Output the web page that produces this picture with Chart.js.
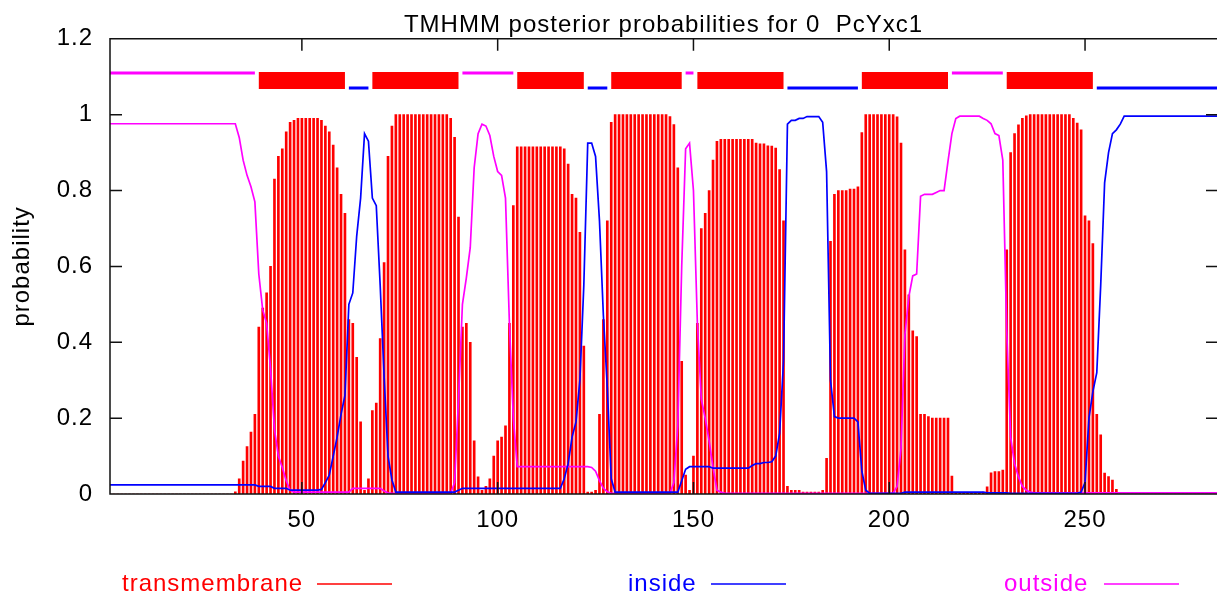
<!DOCTYPE html>
<html>
<head>
<meta charset="utf-8">
<title>TMHMM posterior probabilities</title>
<script src="https://cdn.jsdelivr.net/npm/chart.js@4.4.1/dist/chart.umd.min.js"></script>
<style>
  html, body { margin: 0; padding: 0; background: #fff; overflow: hidden; }
  #chart { display: block; }
</style>
</head>
<body>
<canvas id="chart" width="1217" height="593"></canvas>
<script>
// sequence name and per-residue posterior probabilities (residue 1..284)
const seqName = "0  PcYxc1";

const tmProb = [
  0, 0, 0, 0, 0, 0, 0, 0, 0, 0,
  0, 0, 0, 0, 0, 0, 0, 0, 0, 0,
  0, 0, 0, 0, 0, 0, 0, 0, 0, 0,
  0, 0, 0.006, 0.04, 0.087, 0.125, 0.163, 0.21, 0.44, 0.49,
  0.53, 0.60, 0.83, 0.89, 0.91, 0.955, 0.98, 0.985, 0.99, 0.99,
  0.99, 0.99, 0.99, 0.99, 0.985, 0.97, 0.955, 0.92, 0.86, 0.79,
  0.74, 0.46, 0.45, 0.36, 0.19, 0.01, 0.04, 0.22, 0.24, 0.41,
  0.61, 0.89, 0.97, 1, 1, 1, 1, 1, 1, 1,
  1, 1, 1, 1, 1, 1, 1, 0.99, 0.94, 0.73,
  0.44, 0.45, 0.40, 0.14, 0.045, 0.01, 0.02, 0.04, 0.1, 0.14,
  0.15, 0.18, 0.45, 0.76, 0.915, 0.915, 0.915, 0.915, 0.915, 0.915,
  0.915, 0.915, 0.915, 0.915, 0.915, 0.915, 0.91, 0.87, 0.79, 0.78,
  0.69, 0.39, 0.005, 0.005, 0.01, 0.21, 0.46, 0.72, 0.98, 1,
  1, 1, 1, 1, 1, 1, 1, 1, 1, 1,
  1, 1, 1, 0.995, 0.974, 0.86, 0.35, 0.05, 0.01, 0.1,
  0.45, 0.70, 0.74, 0.80, 0.88, 0.93, 0.935, 0.935, 0.935, 0.935,
  0.935, 0.935, 0.935, 0.935, 0.935, 0.925, 0.923, 0.923, 0.918, 0.917,
  0.912, 0.855, 0.72, 0.02, 0.01, 0.01, 0.01, 0.005, 0.005, 0.005,
  0.005, 0.005, 0.01, 0.094, 0.666, 0.79, 0.8, 0.8, 0.8, 0.804,
  0.804, 0.81, 0.953, 1, 1, 1, 1, 1, 1, 1,
  1, 0.994, 0.925, 0.644, 0.525, 0.43, 0.415, 0.21, 0.21, 0.204,
  0.2, 0.2, 0.2, 0.2, 0.2, 0.047, 0.003, 0.003, 0.003, 0.003,
  0.003, 0.003, 0.003, 0.005, 0.019, 0.056, 0.059, 0.059, 0.063, 0.644,
  0.9, 0.95, 0.973, 0.99, 0.997, 1, 1, 1, 1, 1,
  1, 1, 1, 1, 1, 1, 0.99, 0.978, 0.96, 0.733,
  0.72, 0.66, 0.21, 0.156, 0.055, 0.046, 0.037, 0.012, 0, 0,
  0, 0, 0, 0, 0, 0, 0, 0, 0, 0,
  0, 0, 0, 0, 0, 0, 0, 0, 0, 0,
  0, 0, 0, 0
];

const insideProb = [
  0.024, 0.024, 0.024, 0.024, 0.024, 0.024, 0.024, 0.024, 0.024, 0.024,
  0.024, 0.024, 0.024, 0.024, 0.024, 0.024, 0.024, 0.024, 0.024, 0.024,
  0.024, 0.024, 0.024, 0.024, 0.024, 0.024, 0.024, 0.024, 0.024, 0.024,
  0.024, 0.024, 0.024, 0.024, 0.024, 0.024, 0.024, 0.024, 0.02, 0.02,
  0.02, 0.02, 0.015, 0.015, 0.015, 0.015, 0.01, 0.01, 0.01, 0.01,
  0.01, 0.01, 0.01, 0.01, 0.012, 0.03, 0.05, 0.1, 0.15, 0.21,
  0.26, 0.5, 0.53, 0.68, 0.78, 0.95, 0.93, 0.78, 0.76, 0.55,
  0.31, 0.1, 0.037, 0.005, 0.005, 0.005, 0.005, 0.005, 0.005, 0.005,
  0.005, 0.005, 0.005, 0.005, 0.005, 0.005, 0.005, 0.005, 0.005, 0.01,
  0.015, 0.015, 0.015, 0.015, 0.015, 0.015, 0.015, 0.015, 0.015, 0.015,
  0.015, 0.015, 0.015, 0.015, 0.015, 0.015, 0.015, 0.015, 0.015, 0.015,
  0.015, 0.015, 0.015, 0.015, 0.015, 0.015, 0.04, 0.08, 0.15, 0.19,
  0.3, 0.55, 0.925, 0.925, 0.89, 0.72, 0.47, 0.28, 0.04, 0.005,
  0.005, 0.005, 0.005, 0.005, 0.005, 0.005, 0.005, 0.005, 0.005, 0.005,
  0.005, 0.005, 0.005, 0.005, 0.005, 0.005, 0.035, 0.065, 0.072, 0.072,
  0.072, 0.072, 0.072, 0.072, 0.068, 0.068, 0.068, 0.068, 0.068, 0.068,
  0.068, 0.068, 0.068, 0.068, 0.075, 0.08, 0.08, 0.083, 0.083, 0.085,
  0.1, 0.16, 0.35, 0.975, 0.985, 0.985, 0.99, 0.99, 0.995, 0.995,
  0.995, 0.995, 0.98, 0.85, 0.3, 0.204, 0.2, 0.2, 0.2, 0.2,
  0.2, 0.19, 0.06, 0.01, 0.002, 0.002, 0.002, 0.002, 0.002, 0.002,
  0.002, 0.002, 0.002, 0.005, 0.005, 0.005, 0.005, 0.005, 0.005, 0.005,
  0.005, 0.005, 0.005, 0.005, 0.005, 0.005, 0.005, 0.005, 0.005, 0.005,
  0.005, 0.005, 0.005, 0.005, 0.003, 0.003, 0.003, 0.003, 0.003, 0.003,
  0.002, 0.002, 0.002, 0.002, 0.002, 0.002, 0.002, 0.002, 0.002, 0.002,
  0.002, 0.002, 0.002, 0.002, 0.002, 0.002, 0.002, 0.002, 0.005, 0.03,
  0.2, 0.27, 0.32, 0.55, 0.82, 0.9, 0.95, 0.96, 0.975, 0.996,
  0.996, 0.996, 0.996, 0.996, 0.996, 0.996, 0.996, 0.996, 0.996, 0.996,
  0.996, 0.996, 0.996, 0.996, 0.996, 0.996, 0.996, 0.996, 0.996, 0.996,
  0.996, 0.996, 0.996, 0.996
];

const outsideProb = [
  0.976, 0.976, 0.976, 0.976, 0.976, 0.976, 0.976, 0.976, 0.976, 0.976,
  0.976, 0.976, 0.976, 0.976, 0.976, 0.976, 0.976, 0.976, 0.976, 0.976,
  0.976, 0.976, 0.976, 0.976, 0.976, 0.976, 0.976, 0.976, 0.976, 0.976,
  0.976, 0.976, 0.976, 0.94, 0.88, 0.84, 0.81, 0.77, 0.58, 0.485,
  0.45, 0.33, 0.17, 0.1, 0.07, 0.035, 0.01, 0.005, 0.005, 0.005,
  0.005, 0.005, 0.005, 0.005, 0.005, 0.005, 0.005, 0.005, 0.005, 0.005,
  0.005, 0.005, 0.015, 0.015, 0.015, 0.015, 0.015, 0.015, 0.015, 0.015,
  0.008, 0.003, 0.002, 0.002, 0.002, 0.002, 0.002, 0.002, 0.002, 0.002,
  0.002, 0.002, 0.002, 0.002, 0.002, 0.002, 0.002, 0.002, 0.03, 0.25,
  0.5, 0.57, 0.65, 0.86, 0.95, 0.975, 0.97, 0.945, 0.89, 0.85,
  0.84, 0.78, 0.45, 0.2, 0.072, 0.072, 0.072, 0.072, 0.072, 0.072,
  0.072, 0.072, 0.072, 0.072, 0.072, 0.072, 0.072, 0.072, 0.072, 0.072,
  0.072, 0.072, 0.072, 0.07, 0.06, 0.035, 0.015, 0.006, 0.002, 0.002,
  0.002, 0.002, 0.002, 0.002, 0.002, 0.002, 0.002, 0.002, 0.002, 0.002,
  0.002, 0.002, 0.002, 0.002, 0.03, 0.18, 0.6, 0.91, 0.925, 0.8,
  0.45, 0.25, 0.2, 0.14, 0.07, 0.01, 0.005, 0.002, 0.002, 0.002,
  0.002, 0.002, 0.002, 0.002, 0.002, 0.002, 0.002, 0.002, 0.002, 0.002,
  0.002, 0.002, 0.002, 0.002, 0.002, 0.002, 0.002, 0.002, 0.002, 0.002,
  0.002, 0.002, 0.002, 0.002, 0.002, 0.002, 0.002, 0.002, 0.002, 0.002,
  0.002, 0.002, 0.002, 0.002, 0.002, 0.002, 0.002, 0.002, 0.002, 0.002,
  0.002, 0.02, 0.12, 0.42, 0.52, 0.575, 0.58, 0.785, 0.79, 0.79,
  0.79, 0.795, 0.8, 0.8, 0.877, 0.95, 0.99, 0.996, 0.996, 0.996,
  0.996, 0.996, 0.996, 0.99, 0.985, 0.976, 0.95, 0.945, 0.88, 0.43,
  0.15, 0.08, 0.045, 0.02, 0.01, 0.005, 0.003, 0.003, 0.003, 0.003,
  0.003, 0.003, 0.003, 0.003, 0.003, 0.003, 0.003, 0.003, 0.003, 0.003,
  0.003, 0.003, 0.003, 0.003, 0.003, 0.003, 0.003, 0.003, 0.003, 0.003,
  0.003, 0.003, 0.003, 0.003, 0.003, 0.003, 0.003, 0.003, 0.003, 0.003,
  0.003, 0.003, 0.003, 0.003, 0.003, 0.003, 0.003, 0.003, 0.003, 0.003,
  0.003, 0.003, 0.003, 0.003
];

// predicted topology, [first residue, last residue]
const outsideSegments = [[1, 38], [91, 104], [148, 150], [216, 229]];
const tmSegments = [[39, 61], [68, 90], [105, 122], [129, 147], [151, 173], [193, 215], [230, 252]];
const insideSegments = [[62, 67], [123, 128], [174, 192], [253, 284]];

const legendLabels = ["transmembrane", "inside", "outside"];

const RED = "#ff0000";
const BLUE = "#0000ff";
const MAGENTA = "#ff00ff";
const FONT = '"Liberation Sans", Arial, Helvetica, sans-serif';

Chart.defaults.font.family = FONT;
Chart.defaults.font.size = 24;
Chart.defaults.color = "#000";

function toPoints(values) {
  return values.map((v, i) => ({ x: i + 1, y: v }));
}

// one line per segment, broken by null points
function segmentPoints(segs, level) {
  const pts = [];
  segs.forEach(([a, b], k) => {
    if (k > 0) pts.push({ x: a - 0.5, y: null });
    pts.push({ x: a, y: level }, { x: b, y: level });
  });
  return pts;
}

// gnuplot-like frame: border, inward ticks and text-then-line legend
const gnuplotFrame = {
  id: "gnuplotFrame",
  beforeDraw(chart) {
    chart.ctx.letterSpacing = "1px";
  },
  afterDatasetsDraw(chart) {
    const { ctx, chartArea: a, scales: { x, y } } = chart;
    ctx.save();
    ctx.strokeStyle = "#111";
    ctx.lineWidth = 1.5;
    ctx.beginPath();
    ctx.moveTo(a.right + 2, a.top);
    ctx.lineTo(a.left, a.top);
    ctx.lineTo(a.left, a.bottom);
    ctx.lineTo(a.right + 2, a.bottom);
    y.ticks.forEach(t => {
      const py = y.getPixelForValue(t.value);
      ctx.moveTo(a.left, py); ctx.lineTo(a.left + 12, py);
      ctx.moveTo(a.right, py); ctx.lineTo(a.right - 11, py);
    });
    x.ticks.forEach(t => {
      const px = x.getPixelForValue(t.value);
      ctx.moveTo(px, a.bottom); ctx.lineTo(px, a.bottom - 12);
      ctx.moveTo(px, a.top); ctx.lineTo(px, a.top + 12);
    });
    ctx.stroke();
    ctx.restore();
  },
  afterDraw(chart) {
    const ctx = chart.ctx;
    const items = [
      { textX: 122, lineX: 317, color: RED },
      { textX: 628, lineX: 711, color: BLUE },
      { textX: 1004, lineX: 1104, color: MAGENTA }
    ];
    ctx.save();
    ctx.font = "24px " + FONT;
    ctx.textBaseline = "alphabetic";
    ctx.textAlign = "left";
    items.forEach((it, i) => {
      ctx.fillStyle = it.color;
      ctx.fillText(legendLabels[i], it.textX, 591);
      ctx.strokeStyle = it.color;
      ctx.lineWidth = 1.5;
      ctx.beginPath();
      ctx.moveTo(it.lineX, 584);
      ctx.lineTo(it.lineX + 75, 584);
      ctx.stroke();
    });
    ctx.restore();
  }
};

new Chart(document.getElementById("chart"), {
  type: "bar",
  data: {
    datasets: [
      {
        type: "line", label: "outside (predicted)",
        data: segmentPoints(outsideSegments, 1.11),
        borderColor: MAGENTA, borderWidth: 3, pointRadius: 0, spanGaps: false, order: 1
      },
      {
        type: "line", label: "inside (predicted)",
        data: segmentPoints(insideSegments, 1.07),
        borderColor: BLUE, borderWidth: 3, pointRadius: 0, spanGaps: false, order: 1
      },
      {
        type: "line", label: "transmembrane (predicted)",
        data: segmentPoints(tmSegments, 1.09),
        borderColor: RED, borderWidth: 17, borderCapStyle: "butt", pointRadius: 0, spanGaps: false, order: 1
      },
      {
        type: "line", label: legendLabels[1],
        data: toPoints(insideProb),
        borderColor: BLUE, borderWidth: 1.7, pointRadius: 0, tension: 0, order: 2
      },
      {
        type: "line", label: legendLabels[2],
        data: toPoints(outsideProb),
        borderColor: MAGENTA, borderWidth: 1.7, pointRadius: 0, tension: 0, order: 2
      },
      {
        type: "bar", label: legendLabels[0],
        data: toPoints(tmProb),
        backgroundColor: RED, barThickness: 2, order: 10
      }
    ]
  },
  options: {
    responsive: false,
    animation: false,
    events: [],
    layout: { padding: 0 },
    plugins: {
      legend: { display: false },
      tooltip: { enabled: false },
      title: {
        display: true,
        text: "TMHMM posterior probabilities for " + seqName,
        color: "#000",
        font: { size: 24, weight: "normal", lineHeight: 1.158 },
        padding: { top: 11, bottom: 0 },
        fullSize: false
      }
    },
    scales: {
      x: {
        type: "linear",
        min: 1,
        max: 283.7,
        offset: false,
        grid: { display: false, drawTicks: false },
        border: { display: false },
        ticks: { stepSize: 50, includeBounds: false, padding: 12, maxRotation: 0, color: "#000" },
        afterFit(scale) { scale.height = 99; }
      },
      y: {
        min: 0,
        max: 1.2,
        grid: { display: false, drawTicks: false },
        border: { display: false },
        ticks: { stepSize: 0.2, padding: 17, color: "#000", callback: v => String(+v.toFixed(1)) },
        title: { display: true, text: "probability", color: "#000", padding: { top: 8, bottom: 0 } },
        afterFit(scale) { scale.width = 110; }
      }
    }
  },
  plugins: [gnuplotFrame]
});
</script>
</body>
</html>
